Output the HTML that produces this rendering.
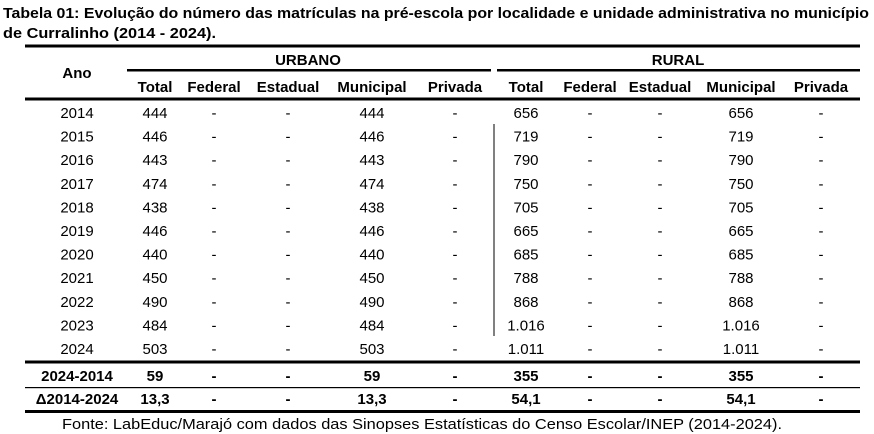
<!DOCTYPE html>
<html><head><meta charset="utf-8"><style>
html,body{margin:0;padding:0;background:#fff;}
svg{display:block;}
text{font-family:"Liberation Sans",sans-serif;fill:#000;}
</style></head><body>
<svg width="874" height="434" viewBox="0 0 874 434" xmlns="http://www.w3.org/2000/svg">
<text x="3" y="18" font-size="14.5" font-weight="bold" textLength="866" lengthAdjust="spacingAndGlyphs">Tabela 01: Evolução do número das matrículas na pré-escola por localidade e unidade administrativa no município</text>
<text x="3" y="38" font-size="14.5" font-weight="bold" textLength="213" lengthAdjust="spacingAndGlyphs">de Curralinho (2014 - 2024).</text>
<rect x="25" y="44.5" width="835" height="3" fill="#000"/>
<rect x="127" y="69" width="364" height="2.5" fill="#000"/>
<rect x="497" y="69" width="363" height="2.5" fill="#000"/>
<rect x="25" y="97.5" width="835" height="3" fill="#000"/>
<rect x="493.5" y="124" width="1" height="212" fill="#000"/>
<rect x="25" y="360.5" width="835" height="3" fill="#000"/>
<rect x="25" y="387" width="835" height="1.2" fill="#000"/>
<rect x="25" y="410" width="835" height="3" fill="#000"/>
<g font-size="15" font-weight="bold" text-anchor="middle">
<text x="77" y="78">Ano</text>
<text x="308" y="65">URBANO</text>
<text x="678" y="65">RURAL</text>
<text x="155" y="92">Total</text><text x="214" y="92">Federal</text><text x="288" y="92">Estadual</text><text x="372" y="92">Municipal</text><text x="455" y="92">Privada</text>
<text x="526" y="92">Total</text><text x="590" y="92">Federal</text><text x="660" y="92">Estadual</text><text x="741" y="92">Municipal</text><text x="821" y="92">Privada</text>
</g>
<g font-size="15" font-weight="bold" text-anchor="middle">
<text x="77" y="381">2024-2014</text><text x="155" y="381">59</text><text x="214" y="381">-</text><text x="288" y="381">-</text><text x="372" y="381">59</text><text x="455" y="381">-</text><text x="526" y="381">355</text><text x="590" y="381">-</text><text x="660" y="381">-</text><text x="741" y="381">355</text><text x="821" y="381">-</text>
<text x="77" y="404">Δ2014-2024</text><text x="155" y="404">13,3</text><text x="214" y="404">-</text><text x="288" y="404">-</text><text x="372" y="404">13,3</text><text x="455" y="404">-</text><text x="526" y="404">54,1</text><text x="590" y="404">-</text><text x="660" y="404">-</text><text x="741" y="404">54,1</text><text x="821" y="404">-</text>
</g>
<g font-size="15" text-anchor="middle">
<text x="77" y="118">2014</text><text x="155" y="118">444</text><text x="214" y="118">-</text><text x="288" y="118">-</text><text x="372" y="118">444</text><text x="455" y="118">-</text><text x="526" y="118">656</text><text x="590" y="118">-</text><text x="660" y="118">-</text><text x="741" y="118">656</text><text x="821" y="118">-</text>
<text x="77" y="141.6">2015</text><text x="155" y="141.6">446</text><text x="214" y="141.6">-</text><text x="288" y="141.6">-</text><text x="372" y="141.6">446</text><text x="455" y="141.6">-</text><text x="526" y="141.6">719</text><text x="590" y="141.6">-</text><text x="660" y="141.6">-</text><text x="741" y="141.6">719</text><text x="821" y="141.6">-</text>
<text x="77" y="165.2">2016</text><text x="155" y="165.2">443</text><text x="214" y="165.2">-</text><text x="288" y="165.2">-</text><text x="372" y="165.2">443</text><text x="455" y="165.2">-</text><text x="526" y="165.2">790</text><text x="590" y="165.2">-</text><text x="660" y="165.2">-</text><text x="741" y="165.2">790</text><text x="821" y="165.2">-</text>
<text x="77" y="188.8">2017</text><text x="155" y="188.8">474</text><text x="214" y="188.8">-</text><text x="288" y="188.8">-</text><text x="372" y="188.8">474</text><text x="455" y="188.8">-</text><text x="526" y="188.8">750</text><text x="590" y="188.8">-</text><text x="660" y="188.8">-</text><text x="741" y="188.8">750</text><text x="821" y="188.8">-</text>
<text x="77" y="212.4">2018</text><text x="155" y="212.4">438</text><text x="214" y="212.4">-</text><text x="288" y="212.4">-</text><text x="372" y="212.4">438</text><text x="455" y="212.4">-</text><text x="526" y="212.4">705</text><text x="590" y="212.4">-</text><text x="660" y="212.4">-</text><text x="741" y="212.4">705</text><text x="821" y="212.4">-</text>
<text x="77" y="236">2019</text><text x="155" y="236">446</text><text x="214" y="236">-</text><text x="288" y="236">-</text><text x="372" y="236">446</text><text x="455" y="236">-</text><text x="526" y="236">665</text><text x="590" y="236">-</text><text x="660" y="236">-</text><text x="741" y="236">665</text><text x="821" y="236">-</text>
<text x="77" y="259.6">2020</text><text x="155" y="259.6">440</text><text x="214" y="259.6">-</text><text x="288" y="259.6">-</text><text x="372" y="259.6">440</text><text x="455" y="259.6">-</text><text x="526" y="259.6">685</text><text x="590" y="259.6">-</text><text x="660" y="259.6">-</text><text x="741" y="259.6">685</text><text x="821" y="259.6">-</text>
<text x="77" y="283.2">2021</text><text x="155" y="283.2">450</text><text x="214" y="283.2">-</text><text x="288" y="283.2">-</text><text x="372" y="283.2">450</text><text x="455" y="283.2">-</text><text x="526" y="283.2">788</text><text x="590" y="283.2">-</text><text x="660" y="283.2">-</text><text x="741" y="283.2">788</text><text x="821" y="283.2">-</text>
<text x="77" y="306.8">2022</text><text x="155" y="306.8">490</text><text x="214" y="306.8">-</text><text x="288" y="306.8">-</text><text x="372" y="306.8">490</text><text x="455" y="306.8">-</text><text x="526" y="306.8">868</text><text x="590" y="306.8">-</text><text x="660" y="306.8">-</text><text x="741" y="306.8">868</text><text x="821" y="306.8">-</text>
<text x="77" y="330.4">2023</text><text x="155" y="330.4">484</text><text x="214" y="330.4">-</text><text x="288" y="330.4">-</text><text x="372" y="330.4">484</text><text x="455" y="330.4">-</text><text x="526" y="330.4">1.016</text><text x="590" y="330.4">-</text><text x="660" y="330.4">-</text><text x="741" y="330.4">1.016</text><text x="821" y="330.4">-</text>
<text x="77" y="354">2024</text><text x="155" y="354">503</text><text x="214" y="354">-</text><text x="288" y="354">-</text><text x="372" y="354">503</text><text x="455" y="354">-</text><text x="526" y="354">1.011</text><text x="590" y="354">-</text><text x="660" y="354">-</text><text x="741" y="354">1.011</text><text x="821" y="354">-</text>
</g>
<text x="422" y="429" font-size="15" text-anchor="middle" textLength="720" lengthAdjust="spacingAndGlyphs">Fonte: LabEduc/Marajó com dados das Sinopses Estatísticas do Censo Escolar/INEP (2014-2024).</text>
</svg>
</body></html>
